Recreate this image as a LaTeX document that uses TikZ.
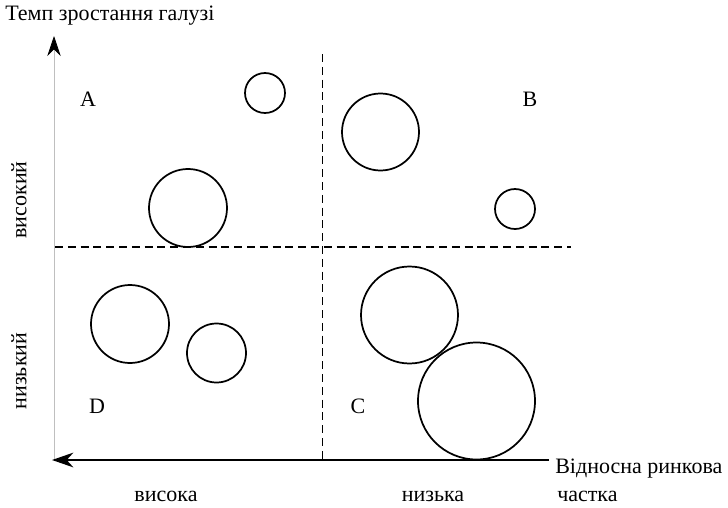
\documentclass[tikz,border=0pt]{standalone}
\usepackage{fontspec}
\setmainfont{Liberation Serif}
\usetikzlibrary{arrows.meta}
\begin{document}
\begin{tikzpicture}[x=0.75pt,y=-0.75pt,
  bubble/.style={draw,circle,line width=1.3pt,inner sep=0pt,minimum size=#1*1.5pt},
  lbl/.style={inner sep=0pt,font=\fontsize{16.5}{19}\selectfont},
  divider/.style={line width=1.1pt,dash pattern=on 6pt off 3.6pt},
  haxis/.style={line width=1.5pt,-{Stealth[length=16pt,width=11pt,inset=5pt]}},
  vaxis/.style={line width=0.5pt,draw=black!25,-{Stealth[length=15pt,width=10pt,inset=5pt,color=black,fill=black]}}]
\useasboundingbox (0,0) rectangle (728,507);

% axes
\coordinate (vbot) at (54,460);
\coordinate (vtop) at (54,36);
\coordinate (hright) at (549,460);
\coordinate (hleft) at (52,460);
\draw[vaxis] (vbot) -- (vtop);
\draw[haxis] (hright) -- (hleft);

% quadrant dividers
\coordinate (dl) at (55,247);
\coordinate (dr) at (571,247);
\coordinate (dt) at (322.5,54);
\coordinate (db) at (322.5,460);
\draw[divider] (dl) -- (dr);
\draw[divider] (dt) -- (db);

% bubbles (radius in px)
\node[bubble=20]   (b1) at (265,93)  {};
\node[bubble=38.5] (b2) at (380.5,132) {};
\node[bubble=39]   (b3) at (188,208) {};
\node[bubble=20]   (b4) at (515,209) {};
\node[bubble=39]   (b5) at (130,324) {};
\node[bubble=29.5] (b6) at (216.5,353) {};
\node[bubble=48.5] (b7) at (409.5,315) {};
\node[bubble=58.5] (b8) at (476.5,401) {};

% quadrant letters
\node[lbl] (qa) at (88,99)  {A};
\node[lbl] (qb) at (530,99) {B};
\node[lbl] (qc) at (358,406) {C};
\node[lbl] (qd) at (97,406) {D};

% axis titles
\node[lbl,anchor=west] (ytitle) at (5,16) {Темп зростання галузі};
\node[lbl,anchor=west] (xtitle1) at (555,469) {Відносна ринкова};
\node[lbl,anchor=west] (xtitle2) at (557,496) {частка};

% scale labels
\node[lbl,rotate=90] (yhigh) at (19,200) {високий};
\node[lbl,rotate=90] (ylow)  at (19,371) {низький};
\node[lbl] (xhigh) at (166,496) {висока};
\node[lbl] (xlow)  at (433,496) {низька};
\end{tikzpicture}
\end{document}
